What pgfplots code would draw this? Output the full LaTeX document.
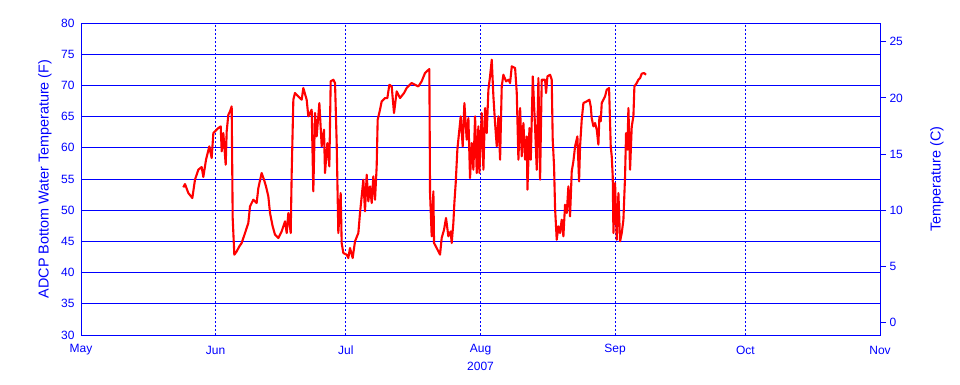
\documentclass[border=0pt]{standalone}
\usepackage{pgfplots}
\pgfplotsset{compat=1.18}
\usepackage{fontspec}
\setmainfont{Liberation Sans}
\definecolor{pblue}{RGB}{0,0,255}
\definecolor{pred}{RGB}{255,0,0}
\begin{document}
\begin{tikzpicture}[x=1pt,y=1pt]
\path (-81,-49) rectangle (879,335);
\begin{axis}[
  at={(0,0)}, anchor=south west,
  scale only axis, width=799pt, height=312pt,
  xmin=0, xmax=184, ymin=30, ymax=80,
  axis line style={pblue, line width=0.9pt},
  xtick={0,31,61,92,123,153,184},
  xticklabels={May,Jun,Jul,Aug,Sep,Oct,Nov},
  ytick={30,35,...,80},
  major tick length=0pt,
  xmajorgrids, ymajorgrids,
  x grid style={draw=pblue, line width=0.9pt, dash pattern=on 2pt off 2pt},
  y grid style={draw=pblue, line width=0.9pt},
  tick label style={font=\fontsize{12}{14}\selectfont, text=pblue},
  /pgf/number format/assume math mode=true,
  xlabel={2007},
  ylabel={ADCP Bottom Water Temperature (F)},
  label style={font=\fontsize{12}{14}\selectfont, text=pblue},
  xlabel style={at={(axis description cs:0.5,0)}, anchor=center, yshift=-31pt},
  ylabel style={font=\fontsize{14.4}{16}\selectfont, at={(axis description cs:0,0.5)}, anchor=center, yshift=36pt},
  xticklabel style={anchor=center, yshift=-15pt},
  yticklabel style={anchor=east, xshift=-3pt},
]
\addplot[pred, line width=2.1pt, line join=round] table {
x y
23.57 53.66
23.95 54.19
24.72 52.75
25.64 51.95
26.25 54.89
27.02 56.49
27.79 56.92
28.17 55.32
28.79 58.09
29.55 60.23
30.09 58.36
30.48 62.37
30.86 62.63
31.63 63.17
32.17 63.43
32.40 59.43
32.78 62.37
33.32 57.29
33.55 62.63
33.93 65.30
34.31 65.84
34.70 66.64
34.93 48.75
35.31 42.87
35.85 43.40
36.46 44.20
37.00 44.74
37.77 46.34
38.53 47.94
38.92 50.61
39.68 51.68
40.45 51.15
40.84 53.55
41.60 55.96
42.14 54.89
42.60 53.82
43.14 52.22
43.53 49.55
44.14 47.41
44.68 46.07
45.45 45.54
46.21 46.61
46.98 48.21
47.37 46.34
47.75 49.55
48.29 46.34
48.52 55.96
48.90 67.71
49.28 68.78
50.05 68.24
50.82 67.71
51.20 69.58
51.97 67.71
52.35 65.04
53.12 66.11
53.50 53.02
53.89 65.57
54.27 61.83
54.89 67.17
55.43 60.23
55.96 62.90
56.19 55.96
56.73 60.76
57.19 57.02
57.50 70.65
58.11 70.91
58.50 70.38
58.88 60.76
59.26 46.34
59.80 52.75
60.03 44.74
60.41 43.14
61.18 42.87
61.56 42.34
61.95 43.94
62.56 42.34
63.10 45.01
63.87 46.34
64.25 49.55
64.64 52.22
65.02 54.89
65.40 49.81
65.79 55.69
66.17 51.42
66.56 53.82
66.94 51.15
67.32 55.43
67.71 51.68
68.09 57.02
68.32 64.50
68.86 66.11
69.24 67.44
70.01 67.97
70.55 67.97
71.01 70.11
71.55 69.84
72.08 65.57
72.70 69.04
73.47 67.97
74.39 68.78
75.00 69.58
76.15 70.38
76.92 70.11
77.69 69.84
78.45 70.65
79.22 71.98
79.61 72.25
80.22 72.62
80.38 52.75
80.76 45.81
81.15 53.02
81.30 44.74
81.91 43.94
82.68 42.87
83.06 45.54
83.60 46.87
84.06 48.75
84.60 45.81
85.13 46.61
85.36 44.74
85.75 47.94
85.98 51.15
86.29 54.35
86.67 59.70
87.13 62.90
87.44 65.04
87.90 60.23
88.29 67.17
88.82 61.30
89.21 64.77
89.59 55.16
89.98 60.76
90.36 56.49
90.75 65.04
91.13 55.96
91.51 63.43
91.74 55.96
92.28 65.57
92.67 56.49
93.05 66.37
93.43 62.37
93.82 69.31
94.20 71.45
94.59 74.12
94.97 68.24
95.35 63.97
95.74 60.23
96.12 65.04
96.51 58.09
96.89 69.84
97.27 71.71
97.89 70.65
98.43 70.91
98.81 70.38
99.20 73.05
99.97 72.78
100.35 68.78
100.73 58.09
101.12 66.37
101.50 58.63
101.88 63.97
102.27 58.09
102.65 61.83
102.81 53.29
103.27 63.17
103.58 58.09
104.04 71.45
104.56 63.43
104.95 56.49
105.33 71.18
105.72 54.89
106.10 70.91
106.48 70.91
106.87 70.91
107.10 68.78
107.41 71.45
108.02 71.71
108.40 70.91
108.63 61.30
108.94 57.02
109.17 50.35
109.55 45.27
109.94 47.41
110.32 46.34
110.70 48.48
111.09 45.81
111.47 50.88
111.86 49.55
112.24 53.82
112.62 49.01
113.01 56.23
113.39 57.83
113.78 60.23
114.31 61.83
114.70 54.62
114.93 60.23
115.31 64.50
115.70 67.17
116.46 67.44
117.08 67.71
117.38 66.64
117.61 64.77
118.00 63.43
118.38 63.97
118.77 62.90
119.15 60.50
119.38 65.04
119.69 64.24
119.92 67.17
120.68 68.24
121.07 69.31
121.61 69.58
121.99 60.23
122.22 58.63
122.45 55.43
122.61 46.34
122.99 54.35
123.37 45.27
123.76 52.75
124.14 45.01
124.53 46.34
124.91 48.48
125.29 55.43
125.52 62.37
125.83 59.70
126.06 66.37
126.44 56.49
126.83 63.43
127.21 65.04
127.44 69.84
127.98 70.38
128.36 70.91
128.75 71.18
129.13 71.88
129.66 71.98
130.12 71.71
};
\end{axis}
\begin{axis}[
  at={(0,0)}, anchor=south west,
  scale only axis, width=799pt, height=312pt,
  xmin=0, xmax=184,
  ymin=-1.1111, ymax=26.6667,
  axis x line=none,
  axis y line*=right,
  axis line style={pblue, line width=0.9pt},
  ytick={0,5,...,25},
  major tick length=6pt,
  tick align=outside,
  tick style={draw=pblue, line width=0.9pt},
  tick label style={font=\fontsize{12}{14}\selectfont, text=pblue},
  /pgf/number format/assume math mode=true,
  ylabel={Temperature (C)},
  ylabel style={font=\fontsize{14.4}{16}\selectfont, text=pblue, at={(axis description cs:1,0.5)}, anchor=center, yshift=-57pt},
  yticklabel style={anchor=west, xshift=0pt},
]
\end{axis}
\end{tikzpicture}
\end{document}
